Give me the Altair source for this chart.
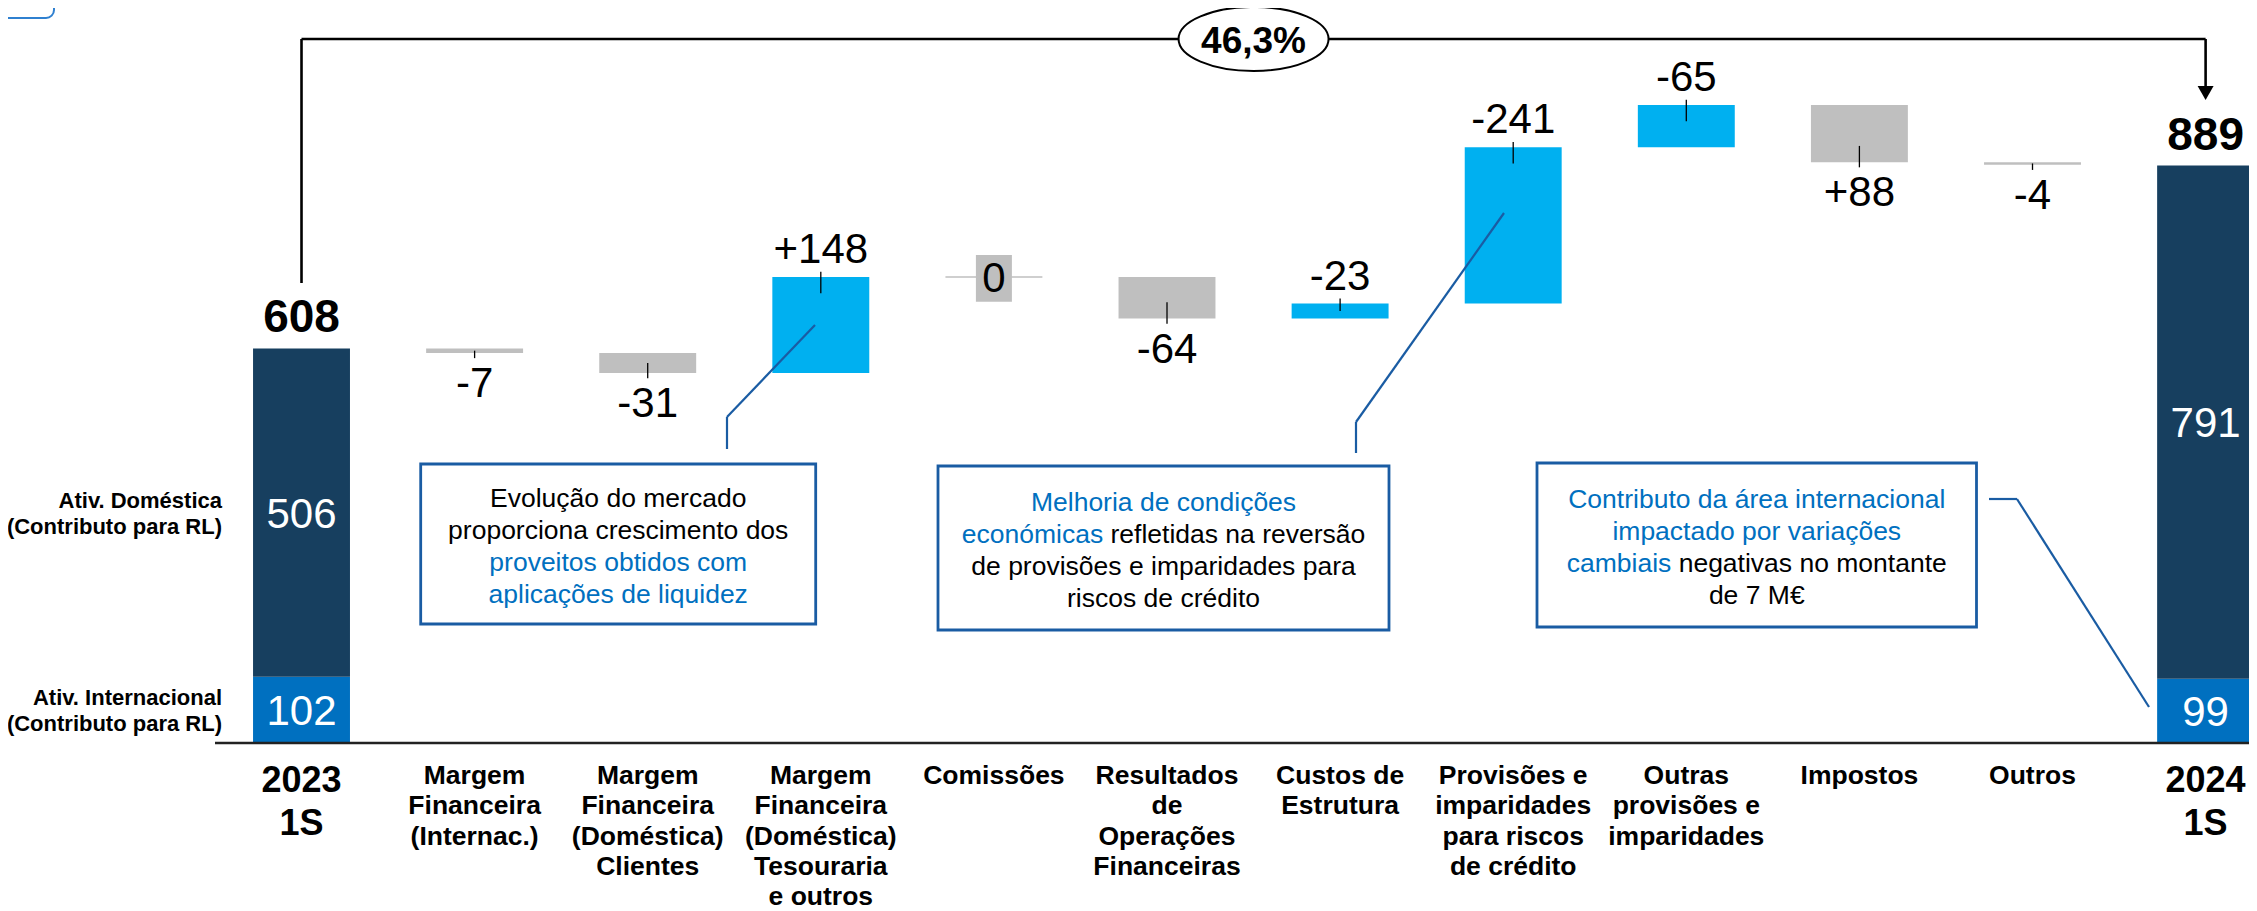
import unicodedata
import altair as alt
import pandas as pd

# ---------------- data ----------------
categories = [
    "2023\n1S",
    "Margem\nFinanceira\n(Internac.)",
    "Margem\nFinanceira\n(Doméstica)\nClientes",
    "Margem\nFinanceira\n(Doméstica)\nTesouraria\ne outros",
    "Comissões",
    "Resultados\nde\nOperações\nFinanceiras",
    "Custos de\nEstrutura",
    "Provisões e\nimparidades\npara riscos\nde crédito",
    "Outras\nprovisões e\nimparidades",
    "Impostos",
    "Outros",
    "2024\n1S",
]
part_names = ["Ativ. Internacional\n(Contributo para RL)", "Ativ. Doméstica\n(Contributo para RL)"]
start_parts = [102, 506]          # Internacional, Doméstica (2023 1S)
end_parts = [99, 791]             # Internacional, Doméstica (2024 1S)
start_total = 608
end_total = 889
reported = [-7, -31, 148, 0, -64, -23, -241, -65, 88, -4]   # values as printed
impact_sign = [1, 1, 1, 1, 1, -1, -1, -1, -1, 1]             # effect on net income
highlighted = [0, 0, 1, 0, 0, 1, 1, 1, 0, 0]
growth = "46,3%"

box1_lines = [
    [("Evolução do mercado", "k")],
    [("proporciona crescimento dos", "k")],
    [("proveitos obtidos com", "b")],
    [("aplicações de liquidez", "b")],
]
box2_lines = [
    [("Melhoria de condições", "b")],
    [("económicas", "b"), (" refletidas na reversão", "k")],
    [("de provisões e imparidades para", "k")],
    [("riscos de crédito", "k")],
]
box3_lines = [
    [("Contributo da área internacional", "b")],
    [("impactado por variações", "b")],
    [("cambiais", "b"), (" negativas no montante", "k")],
    [("de 7 M€", "k")],
]

# ---------------- styles ----------------
FONT = "Liberation Sans"
NAVY = "#173F5F"
INTL = "#0070C0"
CYAN = "#00B0F0"
GRAY = "#BFBFBF"
BOXC = "#1A5CA3"
TXTB = "#0070C0"
HW = 0.28
H = 903

xs = alt.Scale(domain=[-1.6956, 11.2507], nice=False, zero=False)
ys = alt.Scale(domain=[(735 - H) / 0.649, 1132.5], nice=False, zero=False)


def X(f):
    return alt.X(f, type="quantitative", scale=xs, axis=None)


def Y(f):
    return alt.Y(f, type="quantitative", scale=ys, axis=None)


# ---------------- frames ----------------
rows = []
level = start_total
for k, (rep, sgn, hl) in enumerate(zip(reported, impact_sign, highlighted)):
    i = k + 1
    eff = rep * sgn
    begin, end = level, level + eff
    level = end
    d = 1 if eff > 0 else -1
    rows.append(dict(
        i=i, lo=i - HW, hi=i + HW, begin=begin, end=end, eff=eff,
        label=("+" if rep > 0 else "") + str(rep),
        kind="hl" if hl else "base", d=d,
        t_out=end + d * 8, t_in=end - d * min(25, abs(eff) / 2),
        zb_lo=i - 0.104, zb_hi=i + 0.104, zy_lo=end - 38, zy_hi=end + 34,
    ))
deltas = pd.DataFrame(rows)
moving = deltas[deltas.eff != 0]
zero = deltas[deltas.eff == 0]
up = moving[moving.eff > 0]
down = moving[moving.eff < 0]

seg_rows = []
for i, parts, tot in [(0, start_parts, start_total), (11, end_parts, end_total)]:
    base = 0
    for name, kind, v in zip(part_names, ["intl", "dom"], parts):
        seg_rows.append(dict(i=i, lo=i - HW, hi=i + HW, y0=base, y1=base + v,
                             mid=base + v / 2, label=str(v), kind=kind, name=name))
        base += v
segs = pd.DataFrame(seg_rows)
totals = pd.DataFrame(dict(i=[0, 11], total=[start_total, end_total],
                           label=[str(start_total), str(end_total)]))
cats = pd.DataFrame(dict(i=list(range(len(categories))), label=categories))
cats_mid = cats[(cats.i > 0) & (cats.i < 11)]
cats_end = cats[(cats.i == 0) | (cats.i == 11)]

layers = []

# delta bars
layers.append(alt.Chart(moving).mark_rect().encode(
    x=X("lo"), x2="hi", y=Y("begin"), y2="end",
    color=alt.Color("kind:N", scale=alt.Scale(domain=["hl", "base"], range=[CYAN, GRAY]), legend=None)))
# zero bar + its label box
layers.append(alt.Chart(zero).mark_rule(color=GRAY, strokeWidth=1.5).encode(
    x=X("lo"), x2="hi", y=Y("end")))
layers.append(alt.Chart(zero).mark_rect(color=GRAY).encode(
    x=X("zb_lo"), x2="zb_hi", y=Y("zy_lo"), y2="zy_hi"))
# total stacked bars
layers.append(alt.Chart(segs).mark_rect().encode(
    x=X("lo"), x2="hi", y=Y("y0"), y2="y1",
    fill=alt.Fill("kind:N", scale=alt.Scale(domain=["intl", "dom"], range=[INTL, NAVY]), legend=None)))
# ticks
layers.append(alt.Chart(moving).mark_rule(color="black", strokeWidth=1.3).encode(
    x=X("i"), y=Y("t_out"), y2="t_in"))
# delta labels
layers.append(alt.Chart(up).mark_text(font=FONT, fontSize=42, baseline="middle", dy=-27, color="black").encode(
    x=X("i"), y=Y("end"), text="label:N"))
layers.append(alt.Chart(down).mark_text(font=FONT, fontSize=42, baseline="middle", dy=31, color="black").encode(
    x=X("i"), y=Y("end"), text="label:N"))
layers.append(alt.Chart(zero).mark_text(font=FONT, fontSize=42, baseline="middle", dy=2, color="black").encode(
    x=X("i"), y=Y("end"), text="label:N"))
# segment values
layers.append(alt.Chart(segs).mark_text(font=FONT, fontSize=42, baseline="middle", dy=2, color="white").encode(
    x=X("i"), y=Y("mid"), text="label:N"))
# totals
layers.append(alt.Chart(totals).mark_text(font=FONT, fontSize=46, fontWeight="bold", baseline="middle", dy=-30,
                                          color="black").encode(x=X("i"), y=Y("total"), text="label:N"))
# left legend labels
layers.append(alt.Chart(segs[segs.i == 0]).mark_text(font=FONT, fontSize=22, fontWeight="bold", align="right",
                                                    baseline="middle", lineBreak="\n", lineHeight=26, dy=-12,
                                                    color="black").encode(
    x=alt.value(214), y=Y("mid"), text="name:N"))
# baseline
layers.append(alt.Chart(pd.DataFrame(dict(v=[0]))).mark_rule(color="#222222", strokeWidth=2.6).encode(
    x=alt.value(207), x2=alt.value(2241), y=Y("v")))
# category labels
layers.append(alt.Chart(cats_mid).mark_text(font=FONT, fontSize=26.5, fontWeight="bold", baseline="top",
                                           lineBreak="\n", lineHeight=30.3, color="black").encode(
    x=X("i"), y=alt.value(755), text="label:N"))
layers.append(alt.Chart(cats_end).mark_text(font=FONT, fontSize=36, fontWeight="bold", baseline="top",
                                           lineBreak="\n", lineHeight=43, color="black").encode(
    x=X("i"), y=alt.value(756), text="label:N"))

# bracket with arrow
br = pd.DataFrame(dict(a=[0], b=[11], m=[5.5]))
layers.append(alt.Chart(br).mark_rule(color="black", strokeWidth=2.6).encode(
    x=X("a"), y=alt.value(31), y2=alt.value(275)))
layers.append(alt.Chart(br).mark_rule(color="black", strokeWidth=2.6).encode(
    x=X("a"), x2="b", y=alt.value(31)))
layers.append(alt.Chart(br).mark_rule(color="black", strokeWidth=2.6).encode(
    x=X("b"), y=alt.value(31), y2=alt.value(82)))
layers.append(alt.Chart(br).mark_point(shape="M-1,-0.875L1,-0.875L0,0.875Z", size=256, filled=True,
                                       fill="black", opacity=1, strokeWidth=0).encode(
    x=X("b"), y=alt.value(85)))
layers.append(alt.Chart(br).mark_point(shape="M-1,0A1,0.427,0,1,1,1,0A1,0.427,0,1,1,-1,0Z", size=22500,
                                       filled=True, fill="white", stroke="black", strokeWidth=2,
                                       opacity=1).encode(x=X("m"), y=alt.value(31)))
layers.append(alt.Chart(br).mark_text(font=FONT, fontSize=37, fontWeight="bold", baseline="middle",
                                      color="black").encode(
    x=X("m"), y=alt.value(34), text=alt.value(growth)))

one = alt.Data(values=[{"k": 1}])


def seg(x1, y1, x2, y2, color=BOXC, w=2.2):
    return alt.Chart(one).mark_rule(color=color, strokeWidth=w).encode(
        x=alt.value(x1), y=alt.value(y1), x2=alt.value(x2), y2=alt.value(y2))


# leader lines
for pts in [[(807, 317), (719, 409), (719, 441)],
            [(1496, 205), (1348, 414), (1348, 445)],
            [(1981, 491), (2009, 491), (2141, 699)]]:
    for (a1, b1), (a2, b2) in zip(pts[:-1], pts[1:]):
        layers.append(seg(a1, b1, a2, b2))

# callout boxes
W_AR = {" ": 278, "a": 556, "b": 556, "c": 500, "d": 556, "e": 556, "f": 278, "g": 556, "h": 556,
        "i": 222, "j": 222, "k": 500, "l": 222, "m": 833, "n": 556, "o": 556, "p": 556, "q": 556,
        "r": 333, "s": 500, "t": 278, "u": 556, "v": 500, "w": 722, "x": 500, "y": 500, "z": 500,
        "C": 722, "E": 667, "M": 833, "7": 556, "€": 556}


def tw(s, size):
    tot = 0
    for ch in s:
        base = unicodedata.normalize("NFD", ch)[0]
        tot += W_AR.get(base, 556)
    return tot * size / 1000


BOX_FS = 26.5
for (x1, y1, x2, y2), lines, ys_ in [
    ((412.7, 456, 807.7, 616), box1_lines, [489.3, 521.3, 553.7, 585.3]),
    ((930, 458, 1381, 622), box2_lines, [493.7, 525.3, 557.7, 589.3]),
    ((1529, 455, 1968.5, 619), box3_lines, [490, 522, 554.7, 586]),
]:
    layers.append(alt.Chart(one).mark_rect(fill="white", stroke=BOXC, strokeWidth=2.8).encode(
        x=alt.value(x1), x2=alt.value(x2), y=alt.value(y1), y2=alt.value(y2)))
    cx = (x1 + x2) / 2
    for parts, yy in zip(lines, ys_):
        total = sum(tw(t, BOX_FS) for t, _ in parts)
        pos = cx - total / 2
        for t, c in parts:
            lead = len(t) - len(t.lstrip(" "))
            pos += tw(" " * lead, BOX_FS)
            txt = t.strip(" ")
            layers.append(alt.Chart(one).mark_text(font=FONT, fontSize=BOX_FS, align="left", baseline="middle",
                                                   color=TXTB if c == "b" else "black").encode(
                x=alt.value(pos), y=alt.value(yy + 1.5), text=alt.value(txt)))
            pos += tw(txt, BOX_FS)

# clipped corner tag at top-left
layers.append(alt.Chart(one).mark_rect(fill="white", stroke="#2F80D0", strokeWidth=2, cornerRadius=8).encode(
    x=alt.value(-30), x2=alt.value(46), y=alt.value(-40), y2=alt.value(10)))

chart = alt.layer(*layers).resolve_scale(color="independent", fill="independent").properties(
    width=2241, height=H, padding=0, autosize=alt.AutoSizeParams(type="none")
).configure_view(stroke=None)

chart.save("out.html", embed_options={"renderer": "svg", "actions": False})
